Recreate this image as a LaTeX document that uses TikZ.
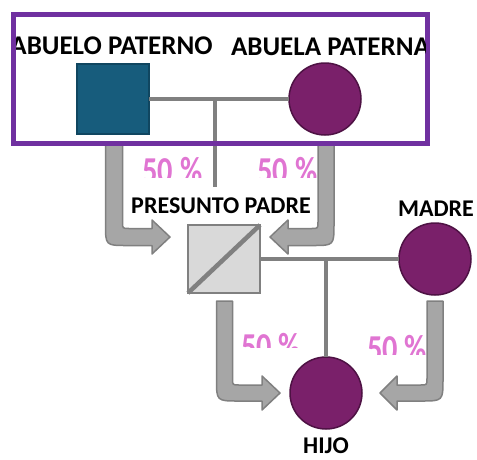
\documentclass[tikz,border=0pt]{standalone}
\usepackage{fontspec}
\setmainfont{Carlito}
\usepackage{tikz}

\definecolor{azulAbuelo}{RGB}{23,92,124}
\definecolor{bordeAzul}{RGB}{16,70,96}
\definecolor{morado}{RGB}{122,32,106}
\definecolor{bordeMorado}{RGB}{78,18,68}
\definecolor{marco}{RGB}{112,48,160}
\definecolor{grisLinea}{RGB}{128,128,128}
\definecolor{grisFlecha}{RGB}{166,166,166}
\definecolor{grisClaro}{RGB}{217,217,217}
\definecolor{rosa}{RGB}{224,117,210}

\begin{document}
\begin{tikzpicture}[x=1pt, y=-1pt, every node/.style={outer sep=0pt},
  varon/.style={rectangle, minimum width=72pt, minimum height=70pt, line width=1.5pt},
  mujer/.style={circle, minimum size=72pt, fill=morado, draw=bordeMorado, line width=1.5pt},
  nombre/.style={inner sep=0pt, anchor=base, font=\fontsize{24}{27}\selectfont\bfseries},
  pct/.style={inner sep=0pt, anchor=base, text=rosa, font=\fontsize{38}{40}\selectfont\bfseries},
  linea/.style={draw=grisLinea, line width=4.5pt},
  flecha/.style={fill=grisFlecha, draw=grisLinea, line width=1.5pt, line join=round}]
\useasboundingbox (0,0) rectangle (477,459);

% block arrows
\draw[flecha] (105.5,144) -- (105.5,224) .. controls (105.5,245.5) .. (127,245.5) -- (152,245.5) -- (152,254) -- (170,237) -- (152,220) -- (152,228.5) -- (129,228.5) .. controls (122.5,228.5) .. (122.5,222) -- (122.5,144) -- cycle;
\draw[flecha] (334,144) -- (334,224) .. controls (334,245.5) .. (312.5,245.5) -- (288,245.5) -- (288,254) -- (270,237) -- (288,220) -- (288,228.5) -- (311.5,228.5) .. controls (318,228.5) .. (318,222) -- (318,144) -- cycle;
\draw[flecha] (216.5,301) -- (216.5,379) .. controls (216.5,401) .. (238.5,401) -- (262,401) -- (262,410) -- (280,393) -- (262,376) -- (262,385) -- (239,385) .. controls (232.5,385) .. (232.5,378.5) -- (232.5,301) -- cycle;
\draw[flecha] (443,301) -- (443,379) .. controls (443,401) .. (421,401) -- (397,401) -- (397,410) -- (380,393) -- (397,376) -- (397,385) -- (420.5,385) .. controls (427,385) .. (427,378.5) -- (427,301) -- cycle;

% grandparents
\node[varon, fill=azulAbuelo, draw=bordeAzul] (abuelo) at (113,99) {};
\node[mujer] (abuela) at (325,99) {};
\coordinate (union1) at (215,99);
\coordinate (bajada) at (215,187);
\draw[linea] (abuelo.east) -- (abuela.west);
\draw[linea] (union1) -- (bajada);

% parents and child
\node[varon, minimum height=68pt, fill=grisClaro, draw=grisLinea] (padre) at (224,259) {};
\node[mujer] (madre) at (435,259) {};
\node[mujer] (hijo) at (326,393) {};
\coordinate (union2) at (hijo.north |- padre.east);
\draw[linea] (padre.south west) -- (padre.north east);
\draw[linea] (padre.east) -- (madre.west);
\draw[linea] (union2) -- (hijo.north);

% frame
\draw[draw=marco, line width=5pt] (13.5,14.5) rectangle (427.5,143.5);
\begin{scope}
\clip (16,17) rectangle (425,141);
\node[nombre, font=\fontsize{27}{30}\selectfont\bfseries] (tabuelo) at (111.5,54) {ABUELO PATERNO};
\node[nombre, font=\fontsize{27}{30}\selectfont\bfseries] (tabuela) at (330.5,55) {ABUELA PATERNA};
\end{scope}

\node[nombre] (tpadre) at (221,213) {PRESUNTO PADRE};
\node[nombre] (tmadre) at (436,216) {MADRE};
\node[nombre] (thijo) at (326,453) {HIJO};

% percentages
\begin{scope}
\clip (130,150) rectangle (340,177.5);
\node[pct] (p1) at (172.5,183) {\scalebox{0.8}[1]{50 \%}};
\node[pct] (p2) at (287.5,183) {\scalebox{0.8}[1]{50 \%}};
\end{scope}
\begin{scope}
\clip (230,325) rectangle (310,347);
\node[pct] (p3) at (271,359) {\scalebox{0.8}[1]{50 \%}};
\end{scope}
\begin{scope}
\clip (355,325) rectangle (440,354);
\node[pct] (p4) at (397,361) {\scalebox{0.8}[1]{50 \%}};
\end{scope}
\end{tikzpicture}
\end{document}
